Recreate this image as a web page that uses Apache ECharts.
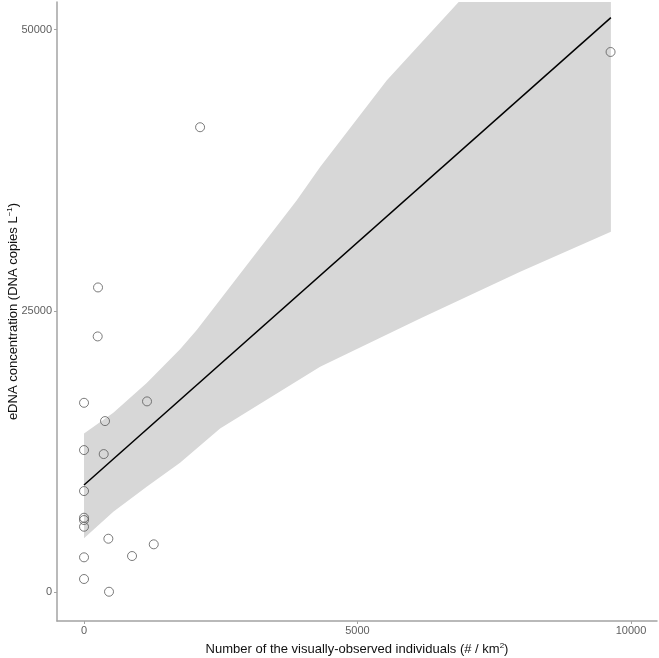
<!DOCTYPE html>
<html>
<head>
<meta charset="utf-8">
<script src="https://cdn.jsdelivr.net/npm/echarts@6/dist/echarts.min.js"></script>
<style>
  html, body { margin: 0; padding: 0; background: #fff; }
  #chart { width: 659px; height: 658px; }
</style>
</head>
<body>
<div id="chart"></div>
<script>
// observed points: visually-observed individuals vs eDNA concentration
const obsX = [256, 250, 0, 1152, 384, 0, 360, 0, 0, 0, 0, 445, 1275, 0, 878, 0, 457, 2122, 9627]
const obsY = [27087, 22735, 16838, 16963, 15213, 12638, 12282, 8996, 6625, 6421, 5826, 4760, 4263, 3108, 3224, 1181, 50, 41323, 48010]

// fitted line ends
const fitX = [0, 9633]
const fitY = [9529, 51065]

// confidence band edges
const upperX = [0, 536, 1146, 1756, 2061, 2488, 3890, 4317, 5537, 6878, 9633]
const upperY = [14120, 15950, 18600, 21600, 23300, 26000, 34840, 37798, 45497, 52600, 70100]
const lowerX = [0, 536, 1146, 1756, 2488, 4317, 6146, 7975, 9633]
const lowerY = [4796, 7158, 9378, 11510, 14565, 20036, 24334, 28472, 32025]

const xTicks = [0, 5000, 10000]
const yTicks = [0, 25000, 50000]

const chart = echarts.init(document.getElementById('chart'))

const axisGray = '#a3a3a3'
const labelGray = '#5e5e5e'
const font = 'Liberation Sans, Arial, sans-serif'

const option = {
  animation: false,
  grid: { left: 57, right: 2, top: 2, bottom: 37, outerBoundsMode: 'none', containLabel: false },
  xAxis: {
    type: 'value',
    min: -494,
    max: 10476,
    name: 'Number of the visually-observed individuals (# / km{sup|2})',
    nameLocation: 'middle',
    nameGap: 21,
    nameMoveOverlap: false,
    nameTextStyle: {
      color: '#111',
      fontSize: 13,
      fontFamily: font,
      rich: { sup: { fontSize: 8, verticalAlign: 'top', padding: [0, 0, 6, 0] } },
    },
    splitLine: { show: false },
    axisLine: { onZero: false, lineStyle: { color: axisGray, width: 1.5 } },
    axisTick: { customValues: xTicks, length: 3, lineStyle: { color: axisGray } },
    axisLabel: {
      customValues: xTicks,
      formatter: (v) => String(v),
      color: labelGray,
      fontSize: 11,
      margin: 4,
      fontFamily: font,
    },
  },
  yAxis: {
    type: 'value',
    min: -2550,
    max: 52450,
    name: 'eDNA concentration (DNA copies L{sup|\u22121})',
    nameLocation: 'middle',
    nameGap: 37,
    nameMoveOverlap: false,
    nameTextStyle: {
      color: '#111',
      fontSize: 13,
      fontFamily: font,
      rich: { sup: { fontSize: 8, verticalAlign: 'top', padding: [0, 0, 6, 0] } },
    },
    splitLine: { show: false },
    axisLine: { onZero: false, lineStyle: { color: axisGray, width: 1.5 } },
    axisTick: { customValues: yTicks, length: 3, lineStyle: { color: axisGray } },
    axisLabel: {
      customValues: yTicks,
      formatter: (v) => String(v),
      color: labelGray,
      fontSize: 11,
      margin: 5,
      fontFamily: font,
    },
  },
  series: [
    {
      // confidence band as one polygon
      type: 'custom',
      clip: true,
      z: 1,
      data: [[0, 0]],
      renderItem: (params, api) => {
        const pts = []
        upperX.forEach((x, i) => pts.push(api.coord([x, upperY[i]])))
        for (let i = lowerX.length - 1; i >= 0; i--) pts.push(api.coord([lowerX[i], lowerY[i]]))
        return {
          type: 'polygon',
          shape: { points: pts },
          style: { fill: '#d7d7d7' },
        }
      },
    },
    {
      type: 'line',
      z: 2,
      symbol: 'none',
      data: fitX.map((x, i) => [x, fitY[i]]),
      lineStyle: { color: '#000', width: 1.5 },
    },
    {
      type: 'scatter',
      z: 3,
      symbol: 'circle',
      symbolSize: 9,
      data: obsX.map((x, i) => [x, obsY[i]]),
      itemStyle: { color: 'rgba(0,0,0,0)', borderColor: '#5a5a5a', borderWidth: 1 },
    },
  ],
}

chart.setOption(option)
</script>
</body>
</html>
